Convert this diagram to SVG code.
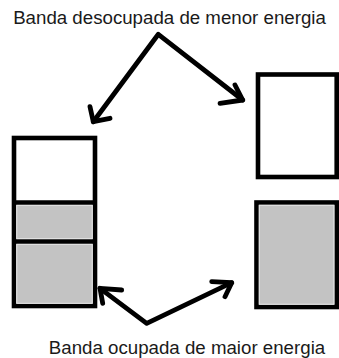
<svg xmlns="http://www.w3.org/2000/svg" width="339" height="358" viewBox="0 0 339 358">
<style>
.box{fill:#ffffff;stroke:#000000;stroke-width:4.6}
.fill{fill:#c3c3c3;stroke:#e2e2e2;stroke-width:1}
.div{stroke:#000000;stroke-width:4.6}
.arr{fill:none;stroke:#000000;stroke-width:4.8;stroke-linecap:round;stroke-linejoin:round}
.lbl{font-family:"Liberation Sans",Arial,sans-serif;font-size:18.7px;fill:#1a1a1a}
</style>
<rect width="339" height="358" fill="#ffffff"/>
<g id="label-top">
<text class="lbl" x="169.5" y="24" text-anchor="middle">Banda desocupada de menor energia</text>
</g>
<g id="left-stack">
<rect class="box" x="14" y="138" width="81" height="168"/>
<rect class="fill" x="16.8" y="205.3" width="75.4" height="33.4"/>
<rect class="fill" x="16.8" y="244.3" width="75.4" height="59"/>
<line class="div" x1="14" y1="202.5" x2="95" y2="202.5"/>
<line class="div" x1="14" y1="241.5" x2="95" y2="241.5"/>
</g>
<g id="right-top">
<rect class="box" x="258" y="74.5" width="78.7" height="102.5"/>
</g>
<g id="right-bottom">
<rect class="box" x="256.5" y="202.5" width="80.2" height="104.5"/>
<rect class="fill" x="259.3" y="205.3" width="74.6" height="98.9"/>
</g>
<g id="connectors">
<polyline class="arr" points="93.3,121.7 158.3,34.3 242.7,100"/>
<polyline class="arr" points="90,106.7 93.3,121.7 110,118.3"/>
<polyline class="arr" points="235,85 242.7,100 220,103.3"/>
<polyline class="arr" points="100,288.3 146.7,323.3 231.7,282.7"/>
<polyline class="arr" points="102.7,303.3 100,288.3 121.7,290"/>
<polyline class="arr" points="211.7,281.7 231.7,282.7 225,296.7"/>
</g>
<g id="label-bottom">
<text class="lbl" x="187" y="353.5" text-anchor="middle">Banda ocupada de maior energia</text>
</g>
</svg>
